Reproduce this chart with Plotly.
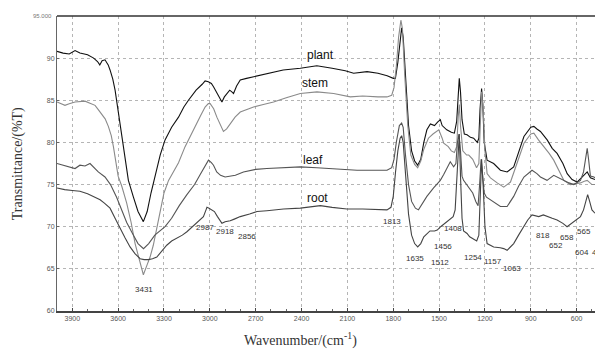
import plotly.graph_objects as go

# ---------------- data (wavenumber cm-1, transmittance %T) ----------------
plant_wn = [4000,3960,3920,3882,3850,3800,3760,3735,3720,3705,3686,3665,3653,3635,3620,3598,3576,3555,3533,3500,3470,3435,3410,3385,3358,3325,3293,3250,3205,3170,3140,3090,3050,3031,3010,2990,2976,2950,2921,2905,2889,2870,2856,2845,2825,2801,2760,2714,2627,2520,2408,2300,2200,2114,2059,2005,1971,1900,1840,1800,1786,1770,1755,1745,1735,1720,1700,1680,1660,1640,1620,1600,1580,1557,1530,1510,1492,1480,1470,1450,1420,1400,1385,1375,1368,1360,1350,1335,1317,1295,1274,1250,1240,1232,1222,1214,1205,1186,1143,1099,1055,1012,980,945,900,880,860,837,793,760,728,690,662,630,597,575,550,531,510,487,480]
plant_t = [90.8,90.6,90.5,90.9,90.6,90.4,90.0,89.6,89.2,89.7,89.8,89.2,88.6,87.5,86.2,83.5,80.6,77.9,75.5,73.5,71.8,70.6,71.8,74.0,76.0,78.5,80.3,81.8,83.0,84.2,85.0,86.2,86.9,87.3,87.2,87.0,86.6,85.8,84.8,85.4,85.8,86.2,86.0,85.8,86.7,87.4,87.6,87.8,88.2,88.6,88.8,89.1,88.8,88.5,88.2,88.3,88.4,88.2,87.9,87.6,87.6,89.5,92.5,93.6,92.5,87.5,82.0,79.0,77.8,77.3,78.0,80.0,81.5,82.2,82.0,82.4,82.7,82.0,81.8,81.5,81.2,81.1,82.5,86.0,87.6,86.0,82.7,81.0,80.9,80.6,80.5,80.0,80.5,84.0,86.4,84.5,80.0,77.9,77.5,76.7,76.5,77.1,78.8,80.7,81.8,81.9,81.6,81.3,80.3,79.3,78.7,77.5,76.3,75.6,75.3,75.7,76.2,76.5,75.8,75.7,75.6]

stem_wn = [4000,3948,3920,3882,3817,3780,3751,3730,3707,3685,3664,3645,3631,3609,3600,3576,3544,3515,3489,3460,3435,3410,3391,3370,3358,3330,3300,3270,3249,3205,3162,3130,3097,3060,3031,3010,2998,2975,2954,2930,2911,2890,2867,2835,2801,2750,2714,2650,2583,2500,2408,2299,2190,2081,2000,1900,1841,1810,1795,1780,1765,1750,1740,1725,1705,1685,1660,1640,1620,1600,1570,1540,1502,1480,1470,1440,1420,1400,1385,1375,1368,1360,1345,1320,1306,1280,1255,1240,1230,1222,1212,1200,1186,1164,1120,1077,1033,990,945,900,880,850,814,780,750,715,684,641,600,575,550,531,500,480]
stem_t = [84.8,84.4,84.6,84.8,84.9,84.6,84.4,83.9,83.4,82.8,81.9,80.8,79.5,76.7,76.0,74.8,72.8,70.5,68.0,66.0,64.3,65.5,66.4,67.8,68.8,71.5,74.0,75.5,76.2,77.6,79.5,80.7,81.9,83.2,84.2,84.6,84.6,84.0,83.0,82.0,81.3,81.6,82.2,83.0,83.6,84.0,84.2,84.5,84.8,85.3,85.8,86.0,85.8,85.4,85.5,85.4,85.4,85.6,86.5,89.0,92.5,94.5,93.5,88.0,82.0,78.5,77.4,77.0,77.8,79.2,80.5,81.0,81.5,80.5,79.9,79.5,79.0,78.8,79.5,83.0,84.5,82.0,79.0,78.5,78.5,78.0,77.0,77.5,82.0,86.0,84.0,79.0,76.3,75.8,75.2,74.7,75.3,77.5,79.9,81.0,81.1,80.3,79.5,78.7,77.9,76.7,75.5,75.0,75.1,75.2,75.4,75.5,75.0,75.0]

leaf_wn = [4000,3940,3882,3850,3817,3784,3760,3730,3686,3650,3610,3576,3544,3500,3470,3434,3400,3360,3293,3250,3200,3150,3100,3063,3030,3009,2990,2976,2955,2930,2900,2870,2833,2780,2700,2627,2500,2408,2300,2190,2100,2037,1900,1841,1810,1795,1780,1760,1745,1735,1720,1700,1680,1655,1635,1610,1580,1536,1492,1470,1449,1427,1405,1390,1380,1370,1360,1350,1340,1320,1300,1280,1260,1245,1235,1225,1215,1205,1190,1164,1120,1099,1055,1012,980,945,892,860,837,794,750,710,684,650,619,590,575,555,540,531,522,510,487,480]
leaf_t = [77.5,77.2,76.9,77.3,77.2,77.5,77.0,76.5,75.9,75.0,73.5,72.0,70.5,69.0,68.0,67.4,68.0,69.0,70.0,71.0,72.5,73.8,75.0,76.2,77.3,77.9,77.6,77.3,76.5,76.1,75.9,76.0,76.1,76.5,76.8,76.9,77.0,77.1,77.0,76.9,76.8,76.7,76.7,76.7,77.0,78.0,80.0,82.0,82.3,81.8,78.5,75.0,73.0,72.2,72.0,72.8,73.6,74.6,75.5,76.2,76.9,77.7,77.1,77.5,80.0,81.0,79.0,76.0,75.5,75.0,74.5,74.0,73.0,72.5,75.0,78.0,76.0,74.0,73.5,73.2,72.6,72.4,72.4,73.6,74.8,75.9,76.7,76.3,75.9,75.5,76.1,75.7,75.5,75.2,75.0,75.3,75.5,76.5,78.5,79.3,78.0,76.0,75.9,75.8]

root_wn = [4000,3950,3900,3850,3800,3762,3718,3690,3653,3620,3588,3555,3522,3490,3456,3430,3402,3375,3347,3310,3282,3250,3216,3180,3150,3120,3085,3060,3042,3025,3019,3005,2987,2970,2950,2932,2921,2900,2867,2840,2801,2740,2692,2627,2518,2408,2277,2200,2103,2000,1900,1841,1815,1800,1785,1770,1755,1745,1735,1720,1700,1680,1660,1640,1620,1600,1580,1560,1530,1512,1490,1470,1456,1440,1420,1408,1395,1385,1375,1368,1360,1350,1340,1317,1300,1275,1254,1240,1232,1222,1212,1200,1186,1164,1143,1100,1077,1055,1030,1012,980,947,920,892,870,848,818,794,760,728,690,663,640,619,600,575,555,540,528,515,500,480]
root_t = [74.6,74.4,74.3,74.2,73.9,73.6,73.2,72.8,72.2,71.0,69.8,68.7,67.6,66.8,66.2,66.1,66.1,66.2,66.4,67.2,67.8,68.3,68.6,69.0,69.4,69.9,70.4,70.8,71.2,72.0,72.3,72.2,72.0,71.8,71.2,70.6,70.4,70.6,70.7,70.9,71.2,71.5,71.8,71.9,72.1,72.2,72.5,72.3,72.1,72.1,72.0,72.0,72.3,73.6,76.5,79.0,80.5,80.8,80.0,76.0,71.5,69.0,68.0,67.6,68.0,68.8,69.2,69.5,69.5,69.6,70.0,70.3,70.5,70.8,71.0,71.2,72.0,76.0,80.0,81.0,76.0,71.0,69.5,69.2,68.8,68.5,68.3,69.0,74.0,78.0,75.0,70.0,68.0,67.8,67.6,67.5,67.4,67.2,67.6,68.0,69.0,70.0,70.8,71.4,71.3,71.2,71.4,71.2,71.0,70.8,70.4,70.0,70.3,70.6,70.9,71.2,72.0,73.2,73.8,73.0,72.0,71.6]

series_names = ["plant", "stem", "leaf", "root"]
series_colors = ["#111111", "#8a8a8a", "#555555", "#444444"]

# curve names placed beside the curves
name_labels = ["plant", "stem", "leaf", "root"]
name_wn = [2278, 2310, 2323, 2297]
name_t = [90.4, 87.0, 77.9, 73.4]

# peak labels
peak_labels = ["3431","2987","2918","2856","1813","1635","1512","1456","1408","1254","1157","1063","818","652","658","565","604"]
peak_wn = [3431,3030,2900,2756,1806,1655,1491,1472,1406,1275,1150,1020,823,732,660,555,568]
peak_t = [62.6,69.85,69.4,68.8,70.6,66.2,65.8,67.7,69.8,66.3,65.9,65.0,69.0,67.8,68.7,69.4,67.0]
edge_label = "470"   # partially cut off at the right edge of the picture

xtick_vals = [3900,3600,3300,3000,2700,2400,2100,1800,1500,1200,900,600]
ytick_vals = [60,65,70,75,80,85,90]

# ---------------- figure ----------------
fig = go.Figure()
all_wn = [plant_wn, stem_wn, leaf_wn, root_wn]
all_t = [plant_t, stem_t, leaf_t, root_t]
for name, c, xs, ys in zip(series_names, series_colors, all_wn, all_t):
    fig.add_trace(go.Scatter(x=xs, y=ys, mode="lines", name=name,
                             line=dict(color=c, width=1.1), showlegend=False))

for lab, x, y in zip(name_labels, name_wn, name_t):
    fig.add_annotation(x=x, y=y, text=lab, showarrow=False,
                       font=dict(family="Liberation Sans, Arial", size=12, color="#111"))

for lab, x, y in zip(peak_labels, peak_wn, peak_t):
    fig.add_annotation(x=x, y=y, text=lab, showarrow=False,
                       font=dict(family="Liberation Sans, Arial", size=8, color="#333"))

fig.add_annotation(xref="paper", yref="y", x=0.9915, y=67.0, text=edge_label,
                   showarrow=False, xanchor="left",
                   font=dict(family="Liberation Sans, Arial", size=8, color="#333"))

fig.add_annotation(xref="paper", yref="paper", x=-0.005, y=1.0, text="95.000",
                   showarrow=False, xanchor="right", yanchor="middle",
                   font=dict(family="Liberation Sans", size=6, color="#777"))

fig.add_annotation(xref="paper", yref="paper", x=0.452, y=-0.098, yanchor="middle",
                   text="Wavenumber/(cm<sup>-1</sup>)", showarrow=False,
                   font=dict(family="Liberation Serif, Times New Roman", size=14, color="#333"))
fig.add_annotation(xref="paper", yref="paper", x=-0.073, y=0.5, textangle=-90,
                   xanchor="center", yanchor="middle",
                   text="Transmittance/(%T)", showarrow=False,
                   font=dict(family="Liberation Serif, Times New Roman", size=14, color="#333"))

fig.update_layout(
    width=595, height=350,
    margin=dict(l=57, r=0, t=16, b=39),
    paper_bgcolor="white", plot_bgcolor="white",
    xaxis=dict(range=[4000, 480], tickvals=xtick_vals, showgrid=True,
               gridcolor="#b5b5b5", griddash="dot", gridwidth=1,
               showline=True, linecolor="#444", linewidth=1.5, mirror=False,
               ticks="inside", ticklen=3, tickcolor="#444",
               minor=dict(dtick=100, ticks="inside", ticklen=2, tickcolor="#666", showgrid=False),
               tickfont=dict(family="Liberation Sans", size=7, color="#555"),
               zeroline=False, fixedrange=True),
    yaxis=dict(range=[60, 95], tickvals=ytick_vals, showgrid=True,
               gridcolor="#b5b5b5", griddash="dot", gridwidth=1,
               showline=True, linecolor="#666", linewidth=1, mirror=False,
               ticks="inside", ticklen=2, tickcolor="#666",
               tickfont=dict(family="Liberation Sans", size=7, color="#555"),
               zeroline=False, fixedrange=True),
    shapes=[dict(type="line", xref="paper", yref="paper", x0=0, x1=1, y0=1, y1=1,
                 line=dict(color="#333", width=1.5))],
)

fig.write_html("out.html")
